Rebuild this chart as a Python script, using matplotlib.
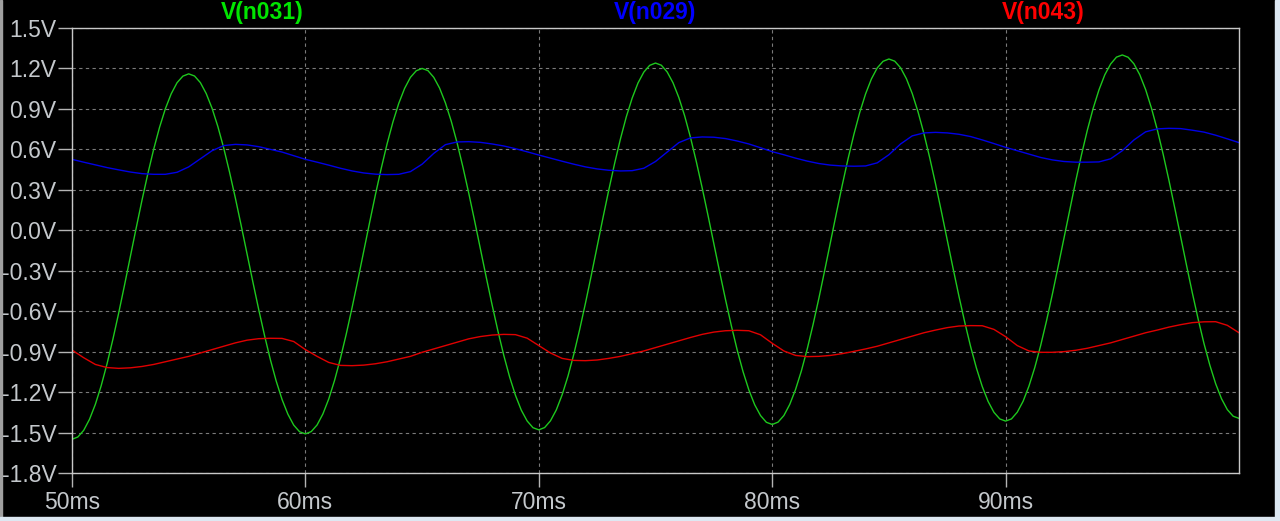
import numpy as np
import matplotlib
matplotlib.use("Agg")
import matplotlib.pyplot as plt
from matplotlib.patches import Rectangle

# time samples in ms
t_fine = np.linspace(50, 100, 201)   # 0.25 ms step, green trace
t_ms = np.linspace(50, 100, 101)     # 0.5 ms step, blue / red traces

# V(n031) - green
v_n031 = [
    -1.550, -1.533, -1.484, -1.402, -1.291, -1.153, -0.991, -0.810, -0.614, -0.407,
    -0.195, 0.017, 0.224, 0.420, 0.601, 0.763, 0.901, 1.012, 1.094, 1.143,
    1.160, 1.144, 1.095, 1.014, 0.905, 0.769, 0.610, 0.431, 0.238, 0.034,
    -0.175, -0.384, -0.588, -0.781, -0.960, -1.119, -1.255, -1.364, -1.445, -1.494,
    -1.510, -1.493, -1.444, -1.362, -1.251, -1.113, -0.951, -0.770, -0.574, -0.367,
    -0.155, 0.057, 0.264, 0.460, 0.641, 0.803, 0.941, 1.052, 1.134, 1.183,
    1.200, 1.184, 1.134, 1.054, 0.944, 0.808, 0.648, 0.468, 0.274, 0.070,
    -0.140, -0.350, -0.554, -0.748, -0.928, -1.088, -1.224, -1.334, -1.414, -1.464,
    -1.480, -1.463, -1.413, -1.332, -1.220, -1.082, -0.919, -0.737, -0.540, -0.333,
    -0.120, 0.093, 0.300, 0.497, 0.679, 0.842, 0.980, 1.092, 1.173, 1.223,
    1.240, 1.224, 1.174, 1.094, 0.984, 0.848, 0.688, 0.508, 0.314, 0.110,
    -0.100, -0.310, -0.514, -0.708, -0.888, -1.048, -1.184, -1.294, -1.374, -1.424,
    -1.440, -1.423, -1.374, -1.292, -1.181, -1.043, -0.881, -0.700, -0.504, -0.297,
    -0.085, 0.127, 0.334, 0.530, 0.711, 0.873, 1.011, 1.122, 1.204, 1.253,
    1.270, 1.254, 1.205, 1.124, 1.014, 0.877, 0.717, 0.537, 0.343, 0.138,
    -0.073, -0.283, -0.488, -0.682, -0.862, -1.022, -1.159, -1.269, -1.350, -1.399,
    -1.415, -1.399, -1.349, -1.268, -1.156, -1.018, -0.856, -0.674, -0.477, -0.270,
    -0.058, 0.155, 0.362, 0.559, 0.741, 0.903, 1.041, 1.153, 1.233, 1.284,
    1.300, 1.283, 1.234, 1.153, 1.043, 0.905, 0.745, 0.564, 0.369, 0.163,
    -0.048, -0.258, -0.464, -0.659, -0.840, -1.000, -1.138, -1.249, -1.330, -1.379,
    -1.395,
]

# V(n029) - blue
v_n029 = [
    0.526, 0.505, 0.485, 0.465, 0.448, 0.432, 0.420, 0.415, 0.415, 0.430,
    0.470, 0.530, 0.590, 0.628, 0.637, 0.633, 0.620, 0.600, 0.580, 0.553,
    0.526, 0.505, 0.483, 0.460, 0.440, 0.425, 0.416, 0.413, 0.415, 0.435,
    0.490, 0.570, 0.635, 0.655, 0.657, 0.652, 0.640, 0.625, 0.605, 0.582,
    0.558, 0.535, 0.512, 0.490, 0.470, 0.455, 0.445, 0.440, 0.442, 0.460,
    0.510, 0.580, 0.650, 0.685, 0.692, 0.690, 0.680, 0.662, 0.640, 0.612,
    0.583, 0.560, 0.535, 0.513, 0.495, 0.483, 0.477, 0.475, 0.477, 0.500,
    0.560, 0.640, 0.700, 0.722, 0.726, 0.722, 0.712, 0.695, 0.670, 0.643,
    0.615, 0.590, 0.565, 0.540, 0.522, 0.510, 0.505, 0.505, 0.507, 0.530,
    0.590, 0.670, 0.730, 0.752, 0.756, 0.754, 0.742, 0.728, 0.705, 0.678,
    0.650,
]

# V(n043) - red
v_n043 = [
    -0.888, -0.945, -0.995, -1.018, -1.024, -1.020, -1.010, -0.995, -0.975, -0.955,
    -0.935, -0.910, -0.885, -0.860, -0.835, -0.815, -0.804, -0.801, -0.802, -0.825,
    -0.885, -0.935, -0.980, -1.002, -1.004, -1.000, -0.990, -0.975, -0.955, -0.935,
    -0.905, -0.880, -0.855, -0.830, -0.805, -0.788, -0.777, -0.772, -0.774, -0.800,
    -0.855, -0.910, -0.950, -0.965, -0.967, -0.962, -0.950, -0.935, -0.915, -0.895,
    -0.870, -0.845, -0.820, -0.795, -0.772, -0.755, -0.745, -0.742, -0.745, -0.775,
    -0.838, -0.895, -0.928, -0.937, -0.935, -0.928, -0.915, -0.898, -0.880, -0.860,
    -0.835, -0.810, -0.785, -0.760, -0.740, -0.722, -0.710, -0.707, -0.708, -0.735,
    -0.789, -0.855, -0.895, -0.905, -0.905, -0.900, -0.890, -0.875, -0.855, -0.835,
    -0.810, -0.785, -0.760, -0.740, -0.718, -0.700, -0.685, -0.679, -0.678, -0.705,
    -0.760,
]

trace_names = ["V(n031)", "V(n029)", "V(n043)"]
line_colors = ["#1ec81e", "#0000e6", "#e00000"]
title_colors = ["#00e600", "#0000ff", "#ff0000"]
title_x = [262, 655, 1043]

y_ticks = [-1.8, -1.5, -1.2, -0.9, -0.6, -0.3, 0.0, 0.3, 0.6, 0.9, 1.2, 1.5]
x_ticks = [50, 60, 70, 80, 90]

plt.rcParams['font.family'] = ['Liberation Sans', 'DejaVu Sans']

W, H = 1280, 521
fig = plt.figure(figsize=(W / 100, H / 100), dpi=100, facecolor='black')
ax = fig.add_axes([72 / W, (H - 473) / H, (1239 - 72) / W, 445 / H])
ax.set_facecolor('black')

ax.plot(t_fine, v_n031, color=line_colors[0], lw=1.0)
ax.plot(t_ms, v_n029, color=line_colors[1], lw=1.0)
ax.plot(t_ms, v_n043, color=line_colors[2], lw=1.0)

ax.set_xlim(50, 100)
ax.set_ylim(-1.8, 1.5)
ax.set_yticks(y_ticks)
ax.set_yticklabels([f"{v:.1f}V" if v != 0 else "0.0V" for v in y_ticks])
ax.set_xticks(x_ticks)
ax.set_xticklabels([f"{v}ms" for v in x_ticks])

ax.grid(True, color='#7a7a7a', lw=0.8, linestyle=(0, (3, 3)))
for s in ax.spines.values():
    s.set_color('#c8c8c8')
    s.set_linewidth(1.0)
ax.tick_params(colors='#b4b4b4', length=10, width=1.0)
ax.tick_params(axis='y', pad=1)
ax.tick_params(axis='x', pad=3)
for lab in ax.get_xticklabels() + ax.get_yticklabels():
    lab.set_fontsize(16.5)
    lab.set_color('#c4c8cc')

for name, col, xp in zip(trace_names, title_colors, title_x):
    fig.text(xp / W, (H - 12) / H, name, color=col, fontsize=16.5,
             fontweight='bold', ha='center', va='center')

# window frame
fig.patches.append(Rectangle((0, 0), 2 / W, 1, transform=fig.transFigure,
                             color='#a0a0a0', zorder=0))
fig.patches.append(Rectangle((1275 / W, 0), 5 / W, 1, transform=fig.transFigure,
                             color='#dde8f2', zorder=0))
fig.patches.append(Rectangle((0, 0), 1, 4 / H, transform=fig.transFigure,
                             color='#dde8f2', zorder=0))

fig.savefig("out.png", dpi=100, facecolor='black')
